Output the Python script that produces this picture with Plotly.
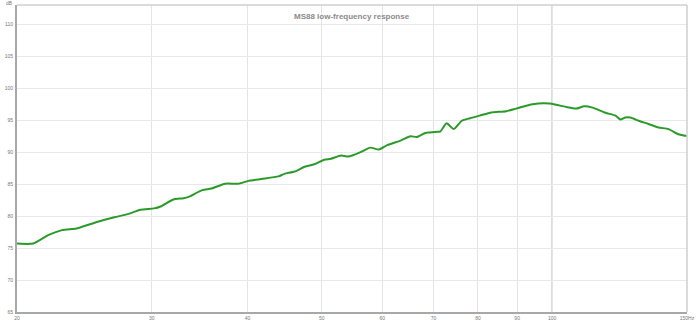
import plotly.graph_objects as go

# Frequency (Hz) and SPL (dB)
freq_hz = [20.0, 20.7, 21.0, 22.0, 22.9, 24.0, 25.5, 26.8, 27.9, 29.0, 30.2, 30.8,
           32.0, 33.0, 33.5, 34.9, 35.9, 37.4, 38.9, 40.1, 41.7, 43.9, 44.7, 46.1,
           47.5, 48.9, 50.4, 51.4, 53.0, 54.2, 56.2, 57.9, 59.4, 60.9, 63.4, 65.3,
           66.6, 68.3, 69.3, 70.7, 71.4, 72.8, 74.4, 76.2, 78.1, 80.4, 83.3, 87.1,
           89.7, 94.3, 99.2, 101.2, 104.2, 107.4, 110.1, 112.9, 117.4, 121.0, 122.8,
           124.6, 126.5, 129.7, 133.6, 137.7, 141.9, 146.1, 150.0]
spl_db = [75.7, 75.65, 75.7, 77.05, 77.8, 78.1, 79.1, 79.8, 80.3, 81.0, 81.2, 81.5,
          82.6, 82.8, 83.0, 84.05, 84.3, 85.06, 85.06, 85.5, 85.8, 86.2, 86.6, 86.96,
          87.7, 88.1, 88.8, 88.95, 89.46, 89.3, 90.0, 90.7, 90.4, 91.1, 91.8, 92.47,
          92.37, 93.0, 93.08, 93.2, 93.2, 94.5, 93.6, 94.9, 95.3, 95.7, 96.2, 96.4,
          96.8, 97.5, 97.6, 97.4, 97.07, 96.8, 97.16, 96.96, 96.15, 95.7, 95.1,
          95.4, 95.4, 94.9, 94.4, 93.85, 93.6, 92.8, 92.5]

x_tickvals = [20, 30, 40, 50, 60, 70, 80, 90, 100, 150]
x_ticktext = ["20", "30", "40", "50", "60", "70", "80", "90", "100", "150Hz"]
y_tickvals = [65, 70, 75, 80, 85, 90, 95, 100, 105, 110]
y_ticktext = ["65", "70", "75", "80", "85", "90", "95", "100", "105", "110"]
title_text = "MS88 low-frequency response"

fig = go.Figure()
fig.add_trace(go.Scatter(
    x=freq_hz, y=spl_db, mode="lines",
    line=dict(color="#2a9a2a", width=2, shape="spline", smoothing=0.6),
    hoverinfo="skip", showlegend=False))

font_small = dict(family="Liberation Sans, Arial, sans-serif", size=5, color="#777777")

fig.update_layout(
    width=700, height=326,
    margin=dict(l=17, r=9, t=5, b=8),
    paper_bgcolor="white", plot_bgcolor="white",
    font=font_small,
    xaxis=dict(type="log", range=[1.30103, 2.176091], tickvals=x_tickvals,
               ticktext=x_ticktext, showgrid=True, gridcolor="#e4e4e4", gridwidth=1,
               showline=True, linecolor="#a8a8a8", linewidth=2, zeroline=False,
               ticks="", tickfont=font_small, ticklabelstandoff=0),
    yaxis=dict(range=[65, 113], tickvals=y_tickvals, ticktext=y_ticktext,
               showgrid=True, gridcolor="#e8e8e8", gridwidth=1,
               showline=True, linecolor="#a8a8a8", linewidth=2, zeroline=False,
               ticks="", tickfont=font_small, ticklabelstandoff=1),
)

# darker decade gridline at 100 Hz
fig.add_shape(type="line", xref="x", yref="paper", x0=100, x1=100, y0=0, y1=1,
              line=dict(color="#c4c4c4", width=1.5), layer="below")
# top and right frame
fig.add_shape(type="line", xref="paper", yref="paper", x0=0, x1=1, y0=1, y1=1,
              line=dict(color="#cfcfcf", width=1.5))
fig.add_shape(type="line", xref="paper", yref="paper", x0=1, x1=1, y0=0, y1=1,
              line=dict(color="#cfcfcf", width=1.5))

fig.add_annotation(text="<b>" + title_text + "</b>", xref="paper", yref="paper",
                   x=0.5, y=0.985, xanchor="center", yanchor="top", showarrow=False,
                   font=dict(family="Liberation Sans, Arial, sans-serif", size=8,
                             color="#8a8a8a"))
fig.add_annotation(text="dB", xref="paper", yref="paper", x=0, y=1.0,
                   xanchor="right", yanchor="bottom", xshift=-2, yshift=-3,
                   showarrow=False, font=font_small)

fig.write_html("out.html")
